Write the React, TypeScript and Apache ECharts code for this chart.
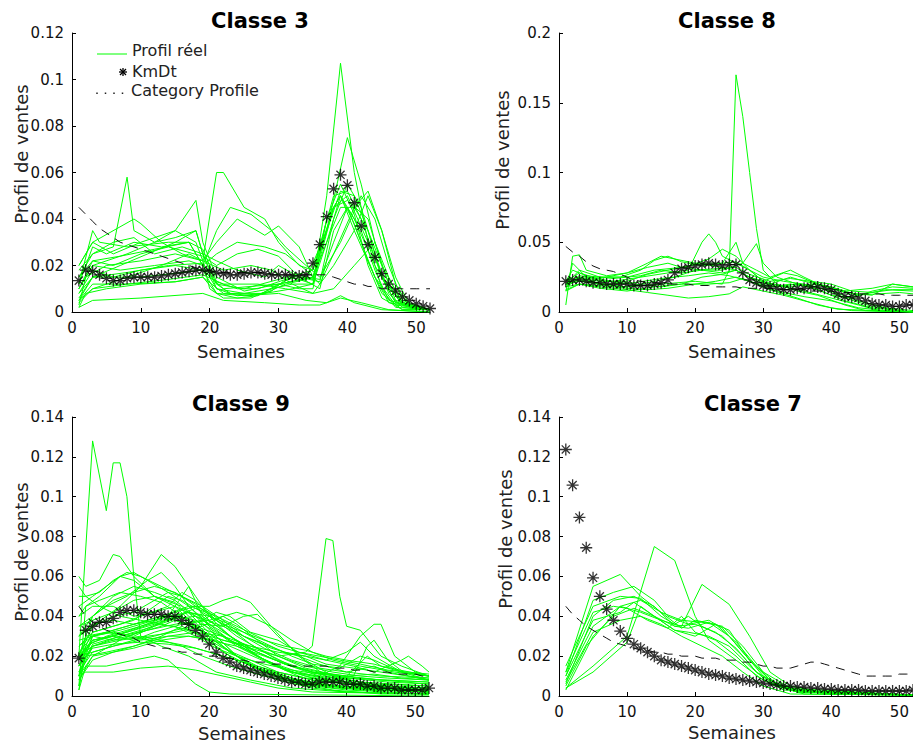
import React, { useEffect, useRef } from "react";
import * as echarts from "echarts";

// ---------- DATA ----------
const weeks = [1,2,3,4,5,6,7,8,9,10,11,12,13,14,15,16,17,18,19,20,21,22,23,24,25,26,27,28,29,30,31,32,33,34,35,36,37,38,39,40,41,42,43,44,45,46,47,48,49,50,51,52];
const xTicks = [0, 10, 20, 30, 40, 50];
const titles = ["Classe 3", "Classe 8", "Classe 9", "Classe 7"];
const yLabel = "Profil de ventes";
const xLabel = "Semaines";
const legendLabels = ["Profil réel", "KmDt", "Category Profile"];
const yMaxes = [0.12, 0.2, 0.14, 0.14];
const yIntervals = [0.02, 0.05, 0.02, 0.02];

// Classe 3
const class3Real = [
  [[1,0.005],[3,0.012],[8,0.012],[15,0.013],[19,0.015],[22,0.008],[28,0.008],[32,0.010],[35,0.012],[37,0.05],[39,0.107],[41,0.06],[43,0.03],[45,0.01],[47,0.002],[52,0.001]],
  [[1,0.008],[3,0.015],[10,0.015],[19,0.018],[22,0.010],[30,0.012],[35,0.015],[37,0.035],[40,0.075],[42,0.055],[44,0.03],[46,0.012],[48,0.003],[52,0.001]],
  [[1,0.015],[3,0.025],[6,0.028],[8,0.058],[9,0.035],[12,0.03],[15,0.032],[18,0.035],[19,0.025],[21,0.012],[25,0.010],[30,0.014],[35,0.018],[38,0.045],[40,0.05],[43,0.03],[46,0.01],[49,0.002],[52,0.001]],
  [[1,0.02],[3,0.03],[6,0.025],[10,0.03],[15,0.035],[18,0.03],[19,0.022],[21,0.06],[22,0.06],[25,0.045],[28,0.04],[30,0.03],[33,0.02],[35,0.018],[38,0.05],[40,0.052],[42,0.04],[45,0.015],[48,0.003],[52,0.001]],
  [[1,0.01],[3,0.02],[8,0.025],[12,0.03],[15,0.035],[18,0.048],[19,0.03],[21,0.015],[25,0.009],[30,0.012],[35,0.015],[37,0.03],[39,0.05],[41,0.035],[44,0.015],[47,0.003],[52,0.001]],
  [[1,0.012],[3,0.035],[4,0.03],[8,0.028],[14,0.03],[17,0.03],[19,0.02],[21,0.035],[23,0.045],[26,0.042],[29,0.035],[31,0.028],[34,0.02],[36,0.015],[39,0.03],[42,0.05],[44,0.04],[46,0.02],[48,0.005],[52,0.001]],
  [[1,0.02],[3,0.03],[9,0.04],[10,0.038],[13,0.03],[16,0.025],[19,0.022],[21,0.03],[24,0.04],[28,0.033],[30,0.037],[33,0.028],[35,0.015],[38,0.045],[40,0.048],[43,0.04],[45,0.02],[48,0.004],[52,0.001]],
  [[1,0.003],[2,0.015],[5,0.02],[10,0.022],[15,0.025],[19,0.022],[20,0.01],[22,0.006],[26,0.006],[29,0.01],[32,0.012],[35,0.012],[38,0.045],[39,0.05],[41,0.04],[44,0.02],[47,0.004],[52,0.001]],
  [[1,0.002],[2,0.008],[5,0.01],[10,0.012],[15,0.013],[19,0.015],[21,0.008],[25,0.007],[30,0.008],[34,0.005],[37,0.004],[39,0.007],[41,0.004],[45,0.001],[52,0]],
  [[1,0.005],[3,0.01],[8,0.012],[14,0.014],[19,0.016],[22,0.012],[27,0.012],[31,0.01],[35,0.008],[38,0.02],[41,0.035],[43,0.05],[45,0.035],[47,0.015],[49,0.003],[52,0.001]],
  [[1,0.01],[3,0.02],[7,0.018],[12,0.02],[17,0.022],[19,0.02],[21,0.025],[24,0.03],[28,0.028],[31,0.025],[34,0.018],[36,0.012],[38,0.025],[41,0.045],[43,0.052],[45,0.035],[47,0.012],[49,0.002],[52,0.001]],
  [[1,0.015],[3,0.022],[6,0.02],[10,0.025],[14,0.028],[19,0.024],[21,0.02],[24,0.025],[27,0.027],[30,0.024],[33,0.015],[36,0.01],[38,0.035],[40,0.045],[42,0.03],[44,0.015],[46,0.004],[52,0.001]],
  [[1,0.008],[3,0.018],[6,0.015],[10,0.018],[15,0.02],[19,0.018],[21,0.008],[24,0.006],[27,0.007],[30,0.012],[33,0.01],[35,0.01],[37,0.04],[39,0.055],[41,0.042],[43,0.02],[45,0.006],[48,0.001],[52,0.001]],
  [[1,0.012],[3,0.028],[5,0.025],[9,0.03],[13,0.028],[17,0.03],[19,0.02],[21,0.01],[25,0.008],[29,0.01],[32,0.015],[35,0.012],[37,0.03],[39,0.045],[41,0.045],[43,0.035],[45,0.02],[47,0.005],[52,0.001]],
  [[1,0.004],[3,0.01],[8,0.015],[13,0.02],[17,0.025],[19,0.022],[22,0.018],[26,0.02],[29,0.018],[32,0.012],[35,0.008],[38,0.01],[41,0.02],[44,0.03],[46,0.015],[48,0.003],[52,0.001]],
  [[1,0.002],[3,0.005],[10,0.006],[19,0.008],[22,0.005],[28,0.004],[33,0.003],[36,0.003],[39,0.006],[42,0.004],[46,0.001],[52,0]],
  [[1,0.018],[3,0.025],[6,0.03],[9,0.032],[12,0.025],[16,0.028],[19,0.025],[21,0.022],[24,0.018],[28,0.015],[30,0.02],[33,0.015],[36,0.013],[38,0.04],[40,0.055],[42,0.045],[44,0.025],[46,0.008],[48,0.002],[52,0.001]],
  [[1,0.006],[3,0.015],[7,0.02],[11,0.025],[15,0.03],[18,0.035],[19,0.025],[21,0.01],[24,0.007],[28,0.008],[31,0.012],[34,0.014],[37,0.035],[39,0.052],[41,0.05],[43,0.035],[45,0.015],[47,0.004],[52,0.001]],
  [[1,0.005],[3,0.015],[8,0.017],[14,0.02],[19,0.021],[21,0.012],[23,0.008],[26,0.007],[29,0.009],[31,0.014],[34,0.015],[36,0.014],[38,0.03],[40,0.045],[42,0.035],[44,0.018],[46,0.005],[52,0.001]],
  [[1,0.01],[3,0.022],[7,0.024],[12,0.027],[17,0.03],[19,0.027],[21,0.013],[24,0.01],[27,0.01],[30,0.013],[33,0.016],[35,0.014],[37,0.04],[39,0.05],[41,0.038],[43,0.022],[45,0.008],[48,0.001],[52,0.001]],
];
const class3KmDt = [0.0135,0.018,0.0175,0.016,0.0145,0.0135,0.0135,0.0145,0.015,0.015,0.015,0.015,0.0155,0.016,0.0165,0.017,0.0175,0.018,0.018,0.0175,0.017,0.0165,0.016,0.016,0.0165,0.017,0.017,0.0165,0.016,0.016,0.016,0.0155,0.0155,0.016,0.021,0.029,0.041,0.053,0.059,0.0545,0.047,0.037,0.029,0.0235,0.0165,0.012,0.009,0.0065,0.005,0.0035,0.0025,0.0015];
const class3Category = [0.045,0.042,0.039,0.036,0.034,0.032,0.030,0.029,0.028,0.027,0.026,0.025,0.024,0.023,0.022,0.021,0.020,0.019,0.018,0.018,0.017,0.017,0.017,0.017,0.017,0.017,0.017,0.017,0.016,0.016,0.016,0.016,0.016,0.016,0.016,0.016,0.016,0.015,0.014,0.013,0.012,0.012,0.011,0.011,0.010,0.010,0.010,0.010,0.010,0.010,0.010,0.010];

// Classe 8
const class8Real = [
  [[1,0.02],[3,0.025],[6,0.02],[10,0.018],[15,0.02],[20,0.022],[24,0.02],[25,0.03],[26,0.17],[27,0.14],[28,0.1],[29,0.06],[30,0.03],[32,0.02],[35,0.015],[38,0.012],[42,0.005],[45,0.001],[52,0]],
  [[1,0.015],[2,0.035],[4,0.025],[8,0.022],[12,0.025],[16,0.028],[19,0.03],[21,0.05],[22,0.056],[23,0.05],[24,0.04],[26,0.035],[28,0.03],[30,0.025],[33,0.022],[36,0.02],[40,0.015],[44,0.008],[48,0.003],[52,0.001]],
  [[1,0.02],[3,0.03],[6,0.025],[10,0.025],[14,0.03],[18,0.032],[21,0.035],[24,0.035],[26,0.05],[27,0.035],[29,0.049],[30,0.035],[32,0.025],[35,0.02],[38,0.018],[42,0.01],[46,0.004],[50,0.001],[52,0]],
  [[1,0.005],[2,0.04],[3,0.041],[4,0.03],[7,0.026],[10,0.028],[13,0.035],[15,0.04],[17,0.038],[20,0.035],[23,0.033],[26,0.03],[28,0.025],[31,0.02],[34,0.025],[36,0.022],[40,0.018],[44,0.012],[48,0.016],[52,0.015]],
  [[1,0.022],[3,0.028],[5,0.025],[9,0.025],[12,0.03],[14,0.037],[16,0.04],[18,0.036],[21,0.033],[24,0.035],[26,0.036],[28,0.03],[30,0.022],[33,0.028],[35,0.026],[38,0.02],[42,0.015],[46,0.017],[49,0.02],[52,0.018]],
  [[1,0.018],[3,0.024],[6,0.022],[10,0.022],[13,0.027],[16,0.03],[19,0.033],[22,0.038],[24,0.045],[26,0.04],[28,0.03],[30,0.022],[33,0.018],[36,0.015],[40,0.01],[44,0.005],[47,0.001],[52,0]],
  [[1,0.02],[3,0.022],[6,0.02],[10,0.018],[14,0.022],[17,0.025],[20,0.03],[23,0.031],[26,0.032],[28,0.027],[31,0.022],[34,0.024],[37,0.022],[40,0.02],[43,0.015],[46,0.014],[49,0.016],[52,0.016]],
  [[1,0.015],[3,0.02],[6,0.018],[10,0.016],[13,0.014],[16,0.012],[19,0.01],[22,0.011],[25,0.013],[27,0.018],[30,0.015],[33,0.012],[36,0.008],[40,0.003],[43,0.001],[52,0]],
  [[1,0.02],[3,0.025],[7,0.022],[11,0.02],[15,0.018],[18,0.02],[21,0.025],[24,0.027],[26,0.03],[28,0.025],[31,0.02],[34,0.018],[37,0.02],[40,0.018],[43,0.012],[47,0.013],[50,0.014],[52,0.013]],
  [[1,0.018],[3,0.02],[6,0.019],[10,0.017],[13,0.016],[16,0.017],[20,0.02],[23,0.022],[26,0.025],[28,0.022],[31,0.016],[35,0.01],[38,0.005],[41,0.002],[52,0]],
  [[1,0.022],[2,0.03],[4,0.026],[8,0.024],[12,0.026],[15,0.03],[18,0.028],[21,0.03],[24,0.028],[26,0.03],[29,0.022],[32,0.018],[35,0.02],[38,0.016],[42,0.008],[46,0.003],[50,0.001],[52,0]],
  [[1,0.02],[3,0.023],[7,0.02],[11,0.021],[15,0.024],[19,0.026],[22,0.028],[25,0.026],[28,0.022],[31,0.018],[34,0.02],[37,0.018],[40,0.012],[43,0.01],[46,0.015],[49,0.018],[52,0.017]],
  [[1,0.016],[3,0.02],[6,0.017],[10,0.015],[14,0.018],[18,0.02],[22,0.02],[25,0.021],[27,0.024],[30,0.018],[33,0.014],[36,0.011],[40,0.008],[44,0.003],[48,0.001],[52,0]],
  [[1,0.02],[3,0.026],[6,0.024],[10,0.028],[13,0.032],[16,0.035],[18,0.032],[21,0.03],[24,0.03],[27,0.035],[29,0.03],[31,0.025],[34,0.03],[36,0.025],[39,0.018],[42,0.014],[46,0.012],[49,0.02],[52,0.018]],
];
const class8KmDt = [0.022,0.023,0.023,0.022,0.021,0.021,0.020,0.020,0.020,0.020,0.019,0.019,0.019,0.020,0.021,0.023,0.028,0.031,0.032,0.033,0.034,0.035,0.034,0.033,0.034,0.034,0.028,0.023,0.021,0.019,0.018,0.017,0.016,0.016,0.017,0.017,0.018,0.018,0.017,0.016,0.013,0.011,0.011,0.010,0.008,0.006,0.005,0.005,0.004,0.004,0.005,0.005];
const class8Category = [0.047,0.043,0.040,0.036,0.033,0.031,0.030,0.029,0.027,0.025,0.023,0.022,0.021,0.021,0.020,0.020,0.020,0.020,0.020,0.019,0.019,0.019,0.018,0.018,0.018,0.018,0.017,0.017,0.017,0.017,0.017,0.016,0.016,0.016,0.016,0.016,0.015,0.015,0.015,0.015,0.014,0.014,0.014,0.013,0.013,0.013,0.013,0.012,0.012,0.012,0.012,0.012];

// Classe 9
const class9Real = [
  [[1,0.02],[3,0.128],[5,0.093],[6,0.117],[7,0.117],[8,0.1],[9,0.06],[10,0.03],[13,0.025],[17,0.02],[21,0.012],[26,0.008],[32,0.004],[40,0.002],[52,0.001]],
  [[1,0.01],[3,0.025],[7,0.03],[12,0.035],[16,0.04],[20,0.03],[25,0.025],[30,0.02],[34,0.022],[35,0.025],[37,0.079],[38,0.078],[39,0.05],[40,0.035],[42,0.033],[45,0.02],[48,0.015],[52,0.01]],
  [[1,0.015],[3,0.03],[8,0.035],[13,0.04],[18,0.035],[22,0.03],[27,0.02],[32,0.012],[36,0.01],[39,0.015],[42,0.03],[44,0.036],[45,0.036],[47,0.02],[50,0.012],[52,0.01]],
  [[1,0.06],[2,0.055],[4,0.058],[6,0.071],[7,0.07],[9,0.06],[12,0.05],[15,0.045],[18,0.035],[21,0.025],[25,0.015],[30,0.008],[35,0.004],[40,0.002],[52,0.001]],
  [[1,0.02],[3,0.035],[7,0.045],[10,0.055],[13,0.071],[15,0.065],[17,0.055],[19,0.04],[21,0.03],[24,0.02],[28,0.012],[33,0.006],[38,0.003],[45,0.001],[52,0.001]],
  [[1,0.01],[3,0.03],[8,0.035],[13,0.04],[17,0.045],[20,0.045],[22,0.048],[24,0.05],[26,0.047],[29,0.035],[33,0.02],[37,0.01],[42,0.005],[48,0.003],[52,0.002]],
  [[1,0.015],[3,0.028],[8,0.032],[13,0.038],[18,0.04],[22,0.035],[25,0.04],[27,0.041],[30,0.03],[34,0.018],[38,0.01],[43,0.006],[52,0.003]],
  [[1,0.03],[3,0.04],[6,0.05],[9,0.055],[12,0.052],[15,0.048],[18,0.04],[21,0.03],[24,0.02],[28,0.012],[33,0.006],[40,0.003],[52,0.001]],
  [[1,0.005],[2,0.045],[4,0.05],[7,0.06],[9,0.058],[12,0.05],[16,0.045],[19,0.035],[22,0.025],[26,0.015],[31,0.008],[38,0.004],[52,0.002]],
  [[1,0.02],[3,0.028],[6,0.03],[10,0.035],[14,0.04],[17,0.055],[18,0.05],[20,0.04],[23,0.03],[27,0.02],[32,0.012],[38,0.008],[44,0.005],[52,0.004]],
  [[1,0.025],[3,0.03],[6,0.028],[10,0.03],[13,0.028],[16,0.025],[19,0.02],[23,0.015],[28,0.01],[34,0.006],[40,0.004],[46,0.003],[52,0.002]],
  [[1,0.003],[2,0.015],[5,0.015],[9,0.018],[12,0.02],[14,0.018],[16,0.012],[18,0.006],[20,0.002],[23,0.001],[52,0]],
  [[1,0.01],[2,0.012],[6,0.012],[10,0.014],[14,0.015],[18,0.013],[22,0.01],[26,0.007],[30,0.004],[35,0.002],[52,0.001]],
  [[1,0.035],[3,0.04],[5,0.045],[8,0.05],[11,0.058],[13,0.062],[15,0.055],[17,0.045],[20,0.035],[23,0.028],[27,0.022],[31,0.016],[35,0.012],[40,0.01],[45,0.008],[52,0.006]],
  [[1,0.018],[3,0.032],[7,0.036],[10,0.04],[14,0.045],[16,0.052],[18,0.048],[21,0.038],[25,0.03],[29,0.024],[33,0.02],[36,0.016],[40,0.012],[44,0.015],[46,0.012],[52,0.008]],
  [[1,0.02],[3,0.022],[6,0.025],[10,0.028],[14,0.03],[17,0.03],[20,0.028],[24,0.025],[28,0.02],[32,0.015],[36,0.012],[40,0.01],[43,0.02],[45,0.015],[52,0.01]],
  [[1,0.04],[2,0.045],[4,0.048],[7,0.052],[10,0.05],[13,0.047],[16,0.04],[19,0.032],[23,0.022],[27,0.014],[32,0.008],[38,0.005],[52,0.003]],
  [[1,0.012],[3,0.026],[7,0.03],[11,0.033],[15,0.036],[19,0.038],[21,0.042],[23,0.04],[26,0.032],[30,0.028],[33,0.022],[37,0.018],[41,0.015],[44,0.012],[48,0.018],[49,0.02],[51,0.015],[52,0.012]],
  [[1,0.005],[2,0.02],[5,0.022],[9,0.025],[13,0.03],[16,0.035],[19,0.03],[22,0.022],[26,0.015],[30,0.01],[35,0.006],[42,0.003],[52,0.002]],
  [[1,0.03],[3,0.035],[6,0.04],[9,0.042],[12,0.048],[14,0.052],[16,0.05],[18,0.045],[20,0.038],[23,0.03],[27,0.022],[31,0.016],[36,0.01],[42,0.007],[52,0.005]],
  [[1,0.015],[3,0.025],[6,0.028],[10,0.032],[13,0.035],[15,0.038],[18,0.034],[22,0.028],[26,0.025],[30,0.022],[34,0.02],[37,0.018],[40,0.022],[42,0.027],[44,0.02],[48,0.012],[52,0.008]],
  [[1,0.028],[3,0.03],[6,0.032],[9,0.03],[12,0.035],[15,0.04],[18,0.038],[21,0.032],[24,0.025],[28,0.018],[33,0.012],[38,0.008],[45,0.005],[52,0.004]],
  [[1,0.008],[3,0.018],[6,0.022],[10,0.026],[14,0.03],[18,0.032],[22,0.03],[26,0.025],[30,0.02],[34,0.015],[38,0.012],[42,0.01],[46,0.009],[52,0.008]],
  [[1,0.045],[3,0.05],[5,0.055],[7,0.06],[9,0.062],[11,0.058],[14,0.052],[17,0.045],[20,0.036],[23,0.028],[27,0.02],[31,0.013],[36,0.008],[44,0.004],[52,0.003]],
  [[1,0.022],[3,0.03],[7,0.033],[11,0.037],[14,0.04],[17,0.042],[20,0.04],[23,0.036],[26,0.03],[29,0.025],[32,0.02],[35,0.016],[39,0.014],[42,0.02],[44,0.018],[48,0.012],[52,0.01]],
  [[1,0.035],[3,0.038],[6,0.042],[9,0.048],[12,0.05],[15,0.047],[17,0.04],[20,0.03],[23,0.022],[27,0.015],[32,0.009],[38,0.005],[52,0.003]],
  [[1,0.02],[3,0.027],[6,0.03],[9,0.028],[12,0.03],[15,0.033],[19,0.036],[22,0.035],[25,0.03],[28,0.026],[31,0.022],[34,0.02],[37,0.016],[41,0.014],[45,0.012],[49,0.01],[52,0.009]],
  [[1,0.01],[3,0.02],[6,0.022],[9,0.024],[13,0.028],[17,0.03],[21,0.028],[25,0.022],[29,0.016],[33,0.01],[37,0.006],[42,0.004],[52,0.002]],
  [[1,0.05],[2,0.05],[4,0.052],[6,0.058],[8,0.062],[10,0.06],[13,0.055],[16,0.05],[19,0.045],[22,0.038],[25,0.03],[28,0.024],[32,0.018],[36,0.014],[40,0.012],[45,0.01],[52,0.009]],
  [[1,0.003],[2,0.025],[5,0.03],[8,0.033],[11,0.036],[14,0.038],[17,0.042],[19,0.04],[22,0.033],[25,0.025],[29,0.016],[34,0.01],[40,0.006],[52,0.004]],
  [[1,0.025],[3,0.032],[6,0.035],[9,0.038],[12,0.045],[14,0.05],[16,0.048],[19,0.042],[22,0.036],[25,0.032],[28,0.028],[31,0.025],[34,0.023],[37,0.02],[40,0.018],[44,0.016],[48,0.012],[52,0.01]],
  [[1,0.015],[3,0.024],[6,0.026],[10,0.027],[14,0.026],[18,0.024],[22,0.02],[26,0.016],[30,0.012],[34,0.009],[38,0.008],[41,0.01],[43,0.025],[44,0.028],[46,0.018],[49,0.01],[52,0.008]],
  [[1,0.04],[3,0.045],[6,0.045],[9,0.04],[12,0.042],[15,0.045],[18,0.04],[21,0.034],[24,0.028],[27,0.022],[31,0.016],[35,0.012],[40,0.009],[46,0.007],[52,0.006]],
  [[1,0.02],[3,0.025],[7,0.028],[11,0.03],[15,0.032],[19,0.035],[22,0.04],[24,0.036],[27,0.028],[30,0.02],[34,0.014],[39,0.01],[45,0.008],[52,0.007]],
  [[1,0.012],[3,0.022],[6,0.025],[9,0.028],[12,0.032],[16,0.036],[20,0.038],[24,0.042],[26,0.04],[29,0.035],[32,0.028],[35,0.022],[38,0.018],[42,0.015],[47,0.012],[52,0.01]],
  [[1,0.03],[3,0.036],[6,0.038],[9,0.036],[12,0.038],[15,0.042],[18,0.045],[20,0.042],[23,0.034],[26,0.026],[30,0.018],[35,0.012],[40,0.009],[46,0.008],[52,0.007]],
  [[1,0.018],[3,0.028],[6,0.03],[9,0.033],[12,0.036],[15,0.035],[18,0.03],[21,0.024],[24,0.02],[28,0.016],[32,0.013],[36,0.011],[40,0.01],[44,0.011],[48,0.009],[52,0.008]],
  [[1,0.055],[2,0.05],[4,0.045],[7,0.04],[10,0.038],[13,0.036],[16,0.034],[19,0.03],[22,0.024],[26,0.018],[30,0.012],[35,0.008],[42,0.005],[52,0.004]],
  [[1,0.008],[3,0.02],[7,0.028],[11,0.034],[15,0.04],[18,0.044],[21,0.04],[24,0.035],[27,0.03],[30,0.025],[33,0.022],[36,0.02],[39,0.018],[42,0.016],[46,0.013],[52,0.011]],
  [[1,0.02],[3,0.04],[6,0.048],[9,0.052],[12,0.055],[15,0.052],[18,0.046],[21,0.038],[24,0.03],[28,0.022],[32,0.015],[37,0.01],[44,0.006],[52,0.005]],
  [[1,0.01],[2,0.03],[5,0.032],[8,0.03],[11,0.028],[14,0.027],[17,0.025],[20,0.022],[24,0.018],[28,0.013],[33,0.008],[38,0.005],[45,0.003],[52,0.002]],
];
const class9KmDt = [0.019,0.033,0.035,0.037,0.037,0.039,0.042,0.043,0.043,0.042,0.041,0.041,0.041,0.040,0.040,0.038,0.036,0.033,0.030,0.026,0.022,0.019,0.017,0.015,0.014,0.013,0.012,0.011,0.010,0.009,0.008,0.007,0.007,0.006,0.006,0.007,0.007,0.007,0.007,0.006,0.006,0.006,0.005,0.005,0.004,0.004,0.004,0.003,0.003,0.003,0.003,0.004];
const class9Category = [0.045,0.040,0.037,0.035,0.033,0.032,0.031,0.030,0.029,0.027,0.026,0.025,0.024,0.024,0.023,0.022,0.022,0.021,0.021,0.020,0.020,0.019,0.019,0.018,0.018,0.017,0.017,0.017,0.016,0.016,0.016,0.015,0.015,0.015,0.015,0.015,0.015,0.014,0.014,0.014,0.013,0.013,0.013,0.012,0.012,0.012,0.011,0.011,0.011,0.011,0.010,0.010];

// Classe 7
const class7Real = [
  [[1,0.004],[5,0.015],[10,0.03],[14,0.075],[17,0.068],[20,0.04],[22,0.028],[26,0.018],[30,0.008],[34,0.003],[40,0.001],[52,0.0005]],
  [[1,0.008],[5,0.035],[9,0.045],[12,0.042],[15,0.038],[18,0.035],[21,0.056],[25,0.046],[28,0.03],[31,0.012],[34,0.005],[40,0.001],[52,0.0005]],
  [[1,0.012],[5,0.055],[9,0.061],[12,0.05],[15,0.042],[18,0.038],[21,0.037],[24,0.035],[27,0.025],[30,0.012],[34,0.004],[40,0.001],[52,0.0005]],
  [[1,0.01],[5,0.048],[8,0.052],[11,0.055],[14,0.048],[16,0.04],[19,0.036],[22,0.038],[24,0.034],[27,0.022],[30,0.01],[34,0.003],[52,0.0005]],
  [[1,0.006],[5,0.04],[8,0.048],[11,0.05],[14,0.045],[17,0.035],[19,0.034],[22,0.037],[25,0.03],[28,0.018],[31,0.008],[35,0.002],[52,0.0005]],
  [[1,0.015],[5,0.045],[9,0.05],[12,0.049],[15,0.04],[17,0.036],[19,0.04],[21,0.035],[24,0.03],[27,0.02],[29,0.012],[33,0.004],[52,0.0005]],
  [[1,0.003],[5,0.03],[8,0.04],[11,0.044],[14,0.04],[17,0.033],[19,0.032],[22,0.03],[25,0.025],[28,0.015],[31,0.006],[35,0.002],[52,0.0005]],
  [[1,0.005],[4,0.025],[9,0.045],[12,0.048],[15,0.042],[18,0.034],[20,0.038],[23,0.036],[26,0.027],[29,0.015],[32,0.006],[36,0.002],[52,0.0005]],
  [[1,0.004],[5,0.012],[10,0.027],[12,0.045],[14,0.04],[17,0.035],[20,0.036],[23,0.032],[26,0.024],[29,0.012],[32,0.005],[36,0.001],[52,0.0005]],
  [[1,0.012],[5,0.042],[8,0.045],[10,0.044],[13,0.038],[16,0.034],[18,0.04],[20,0.032],[23,0.028],[26,0.02],[29,0.01],[33,0.003],[52,0.0005]],
  [[1,0.01],[5,0.038],[9,0.042],[11,0.047],[14,0.04],[17,0.033],[20,0.03],[23,0.036],[25,0.033],[28,0.018],[31,0.008],[35,0.002],[52,0.0005]],
  [[1,0.007],[5,0.032],[9,0.038],[12,0.04],[15,0.036],[18,0.03],[21,0.025],[24,0.02],[27,0.012],[30,0.005],[34,0.001],[52,0.0005]],
];
const class7KmDt = [0.1237,0.1058,0.0896,0.0744,0.0593,0.050,0.0436,0.038,0.0326,0.0289,0.026,0.024,0.022,0.020,0.018,0.017,0.016,0.015,0.014,0.013,0.012,0.011,0.0105,0.010,0.009,0.0085,0.008,0.0075,0.007,0.0065,0.006,0.0055,0.005,0.005,0.0045,0.0045,0.004,0.004,0.0035,0.0035,0.003,0.003,0.003,0.003,0.0025,0.0025,0.0025,0.0025,0.0025,0.0025,0.0025,0.003];
const class7Category = [0.045,0.041,0.038,0.035,0.033,0.031,0.029,0.027,0.026,0.025,0.024,0.023,0.023,0.022,0.022,0.021,0.021,0.020,0.020,0.020,0.019,0.019,0.019,0.018,0.018,0.018,0.017,0.017,0.016,0.015,0.015,0.014,0.014,0.014,0.015,0.016,0.017,0.017,0.016,0.015,0.014,0.013,0.012,0.011,0.010,0.010,0.010,0.010,0.010,0.011,0.011,0.011];

const panelsReal = [class3Real, class8Real, class9Real, class7Real];
const panelsKmDt = [class3KmDt, class8KmDt, class9KmDt, class7KmDt];
const panelsCategory = [class3Category, class8Category, class9Category, class7Category];

// ---------- LAYOUT ----------
const FONT = "DejaVu Sans";
const grids = [
  { left: 72, top: 33, width: 358, height: 279 },
  { left: 559, top: 33, width: 355, height: 279 },
  { left: 72, top: 417, width: 357, height: 279 },
  { left: 559, top: 417, width: 355, height: 279 },
];
const titlePos = [[260, 21], [727, 21], [241, 404], [753, 404]];
const yNamePos = [[21, 154], [502, 160], [21, 552], [505, 539]];
const xNamePos = [[241, 351], [732, 351], [242, 733], [732, 732]];

const STAR = "path://M0,5L10,5M5,0L5,10M1.6,1.6L8.4,8.4M8.4,1.6L1.6,8.4";

function fmt(v: number) {
  if (v === 0) return "0";
  return String(Number(v.toFixed(2)));
}

function buildOption() {
  const xAxis: any[] = [];
  const yAxis: any[] = [];
  const series: any[] = [];
  grids.forEach((g, i) => {
    xAxis.push({
      type: "value", gridIndex: i, min: 0, max: 52,
      axisLine: { show: true, lineStyle: { color: "#000", width: 1 } },
      axisTick: { show: true, inside: true, length: 4, customValues: xTicks, lineStyle: { color: "#000" } },
      axisLabel: { customValues: xTicks, fontSize: 15, fontFamily: FONT, color: "#111", margin: 8 },
      splitLine: { show: false },
    });
    yAxis.push({
      type: "value", gridIndex: i, min: 0, max: yMaxes[i], interval: yIntervals[i],
      axisLine: { show: true, lineStyle: { color: "#000", width: 1 } },
      axisTick: { show: true, inside: true, length: 4, lineStyle: { color: "#000" } },
      axisLabel: { fontSize: 15, fontFamily: FONT, color: "#111", margin: 8, formatter: fmt },
      splitLine: { show: false },
    });
    panelsReal[i].forEach((line) => {
      series.push({
        type: "line", xAxisIndex: i, yAxisIndex: i, data: line,
        symbol: "none", silent: true, z: 2,
        lineStyle: { color: "#00ff00", width: 1 },
      });
    });
    series.push({
      type: "line", xAxisIndex: i, yAxisIndex: i,
      data: panelsCategory[i].map((v, k) => [weeks[k], v]),
      symbol: "none", silent: true, z: 3,
      lineStyle: { color: "#111", width: 1, type: [9, 7] },
    });
    series.push({
      type: "scatter", xAxisIndex: i, yAxisIndex: i,
      data: panelsKmDt[i].map((v, k) => [weeks[k], v]),
      symbol: STAR, symbolSize: 12, silent: true, z: 4,
      itemStyle: { color: "transparent", borderColor: "#000", borderWidth: 1.3 },
    });
  });

  const graphic: any[] = [];
  titles.forEach((t, i) => {
    graphic.push({ type: "text", x: titlePos[i][0], y: titlePos[i][1],
      style: { text: t, fontSize: 21, fontWeight: "bold", fontFamily: FONT, fill: "#000", align: "center", verticalAlign: "middle" } });
    graphic.push({ type: "text", x: yNamePos[i][0], y: yNamePos[i][1], rotation: Math.PI / 2,
      style: { text: yLabel, fontSize: 18, fontFamily: FONT, fill: "#222", align: "center", verticalAlign: "middle" } });
    graphic.push({ type: "text", x: xNamePos[i][0], y: xNamePos[i][1],
      style: { text: xLabel, fontSize: 18, fontFamily: FONT, fill: "#222", align: "center", verticalAlign: "middle" } });
  });
  // legend (Classe 3)
  graphic.push({ type: "line", shape: { x1: 97, y1: 54, x2: 127, y2: 54 }, style: { stroke: "#00ff00", lineWidth: 1 } });
  graphic.push({ type: "text", x: 132, y: 50, style: { text: legendLabels[0], fontSize: 16, fontFamily: FONT, fill: "#222", verticalAlign: "middle" } });
  graphic.push({ type: "group", x: 123, y: 72, children: [
    { type: "line", shape: { x1: -4, y1: 0, x2: 4, y2: 0 }, style: { stroke: "#000", lineWidth: 1.3 } },
    { type: "line", shape: { x1: 0, y1: -4, x2: 0, y2: 4 }, style: { stroke: "#000", lineWidth: 1.3 } },
    { type: "line", shape: { x1: -3, y1: -3, x2: 3, y2: 3 }, style: { stroke: "#000", lineWidth: 1.3 } },
    { type: "line", shape: { x1: 3, y1: -3, x2: -3, y2: 3 }, style: { stroke: "#000", lineWidth: 1.3 } },
  ] });
  graphic.push({ type: "text", x: 132, y: 71, style: { text: legendLabels[1], fontSize: 16, fontFamily: FONT, fill: "#222", verticalAlign: "middle" } });
  [97, 105.5, 114, 122.5].forEach((dx) => {
    graphic.push({ type: "rect", shape: { x: dx - 0.75, y: 92.5, width: 1.5, height: 1.5 }, style: { fill: "#222" } });
  });
  graphic.push({ type: "text", x: 131, y: 90, style: { text: legendLabels[2], fontSize: 16, fontFamily: FONT, fill: "#222", verticalAlign: "middle" } });

  return {
    animation: false,
    backgroundColor: "#fff",
    grid: grids.map((g) => ({ ...g, containLabel: false })),
    xAxis, yAxis, series, graphic,
  };
}

export default function App() {
  const ref = useRef<HTMLDivElement>(null);
  useEffect(() => {
    if (!ref.current) return;
    const chart = echarts.init(ref.current, null, { renderer: "svg" });
    chart.setOption(buildOption() as any);
    return () => chart.dispose();
  }, []);
  return (
    <div
      ref={ref}
      style={{ position: "fixed", left: 0, top: 0, width: 913, height: 744, background: "#fff" }}
    />
  );
}
